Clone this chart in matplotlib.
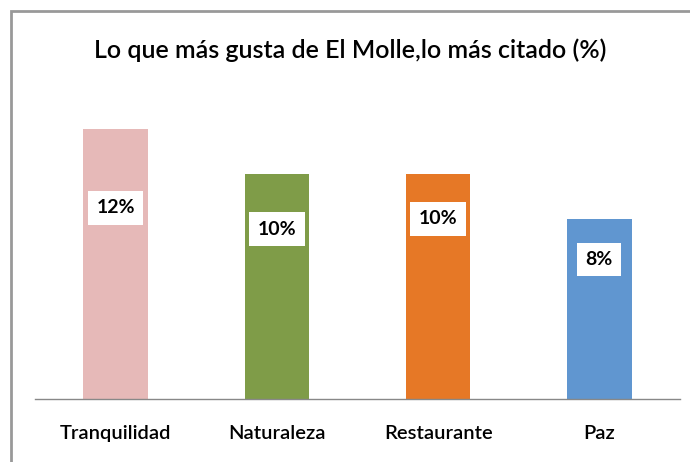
import matplotlib.pyplot as plt
from matplotlib.patches import Rectangle

# datos del grafico
categorias = ['Tranquilidad', 'Naturaleza', 'Restaurante', 'Paz']
porcentajes = [12, 10, 10, 8]
etiquetas = ['12%', '10%', '10%', '8%']
colores = ['#e6b9b8', '#7f9c48', '#e67826', '#6096d0']
# altura (en %) donde va la etiqueta de cada barra
pos_etiqueta = [8.5, 7.55, 8.0, 6.2]

fig = plt.figure(figsize=(6.9, 4.62), dpi=100)
ax = fig.add_axes([35/690, 1-399/462, 645/690, 315/462])

ax.bar(range(len(categorias)), porcentajes, width=0.4, color=colores)

for i in range(len(categorias)):
    ax.text(i, pos_etiqueta[i], etiquetas[i], ha='center', va='center',
            fontsize=14, fontweight='bold', family='Lato', color='black',
            bbox=dict(facecolor='white', edgecolor='none', pad=6))

ax.set_xlim(-0.5, 3.5)
ax.set_ylim(0, 14)
ax.set_yticks([])
ax.set_xticks(range(len(categorias)))
ax.set_xticklabels(categorias, fontsize=14.5, family='Lato', fontweight='semibold')
ax.tick_params(axis='x', length=0, pad=19)
for s in ['top', 'right', 'left']:
    ax.spines[s].set_visible(False)
ax.spines['bottom'].set_color('#888888')
ax.spines['bottom'].set_linewidth(1)

fig.text(350/690, 1-50/462, 'Lo que más gusta de El Molle,lo más citado (%)',
         ha='center', va='center', fontsize=18, family='Lato', fontweight='semibold')

# marco gris del grafico (se corta a la derecha y abajo)
fig.patches.append(Rectangle((11/690, -0.1), 1.2, 1.1 - 11/462,
                             transform=fig.transFigure, fill=False,
                             edgecolor='#999999', linewidth=2))

fig.savefig('out.png', dpi=100)
